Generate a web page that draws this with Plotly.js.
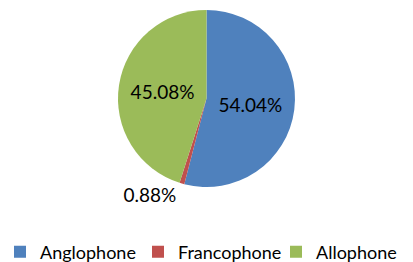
<!DOCTYPE html>
<html>
<head>
<meta charset="utf-8">
<script src="https://cdn.plot.ly/plotly-3.0.1.min.js"></script>
<style>html,body{margin:0;padding:0;background:#fff;}#chart{width:413px;height:262px;}</style>
</head>
<body>
<div id="chart"></div>
<script>
const categories = ['Anglophone', 'Francophone', 'Allophone'];
const values = [54.04, 0.88, 45.08];
const colors = ['#4F81BD', '#C0504D', '#9BBB59'];
const textPositions = ['inside', 'outside', 'inside'];

const data = [{
  type: 'pie',
  labels: categories,
  values: values,
  sort: false,
  direction: 'clockwise',
  rotation: 0,
  marker: {colors: colors, line: {width: 0}},
  texttemplate: '%{percent:.2%}',
  textposition: textPositions,
  insidetextorientation: 'horizontal',
  textfont: {family: 'Lato, sans-serif', size: 19, color: '#000'},
  outsidetextfont: {family: 'Lato, sans-serif', size: 19, color: '#000'},
  hoverinfo: 'none'
}];

const layout = {
  width: 413, height: 262,
  margin: {l: 0, r: 0, t: 10, b: 75},
  paper_bgcolor: '#fff',
  showlegend: true,
  legend: {
    orientation: 'h',
    xref: 'container', yref: 'container',
    x: 0, xanchor: 'left', y: 0.038, yanchor: 'middle',
    font: {family: 'Lato, sans-serif', size: 18, color: '#000'},
    itemwidth: 30, tracegroupgap: 0,
    entrywidth: 93, entrywidthmode: 'pixels'
  },
  font: {family: 'Lato, sans-serif', color: '#000'}
};

Plotly.newPlot('chart', data, layout, {displayModeBar: false, staticPlot: true});
</script>
</body>
</html>
